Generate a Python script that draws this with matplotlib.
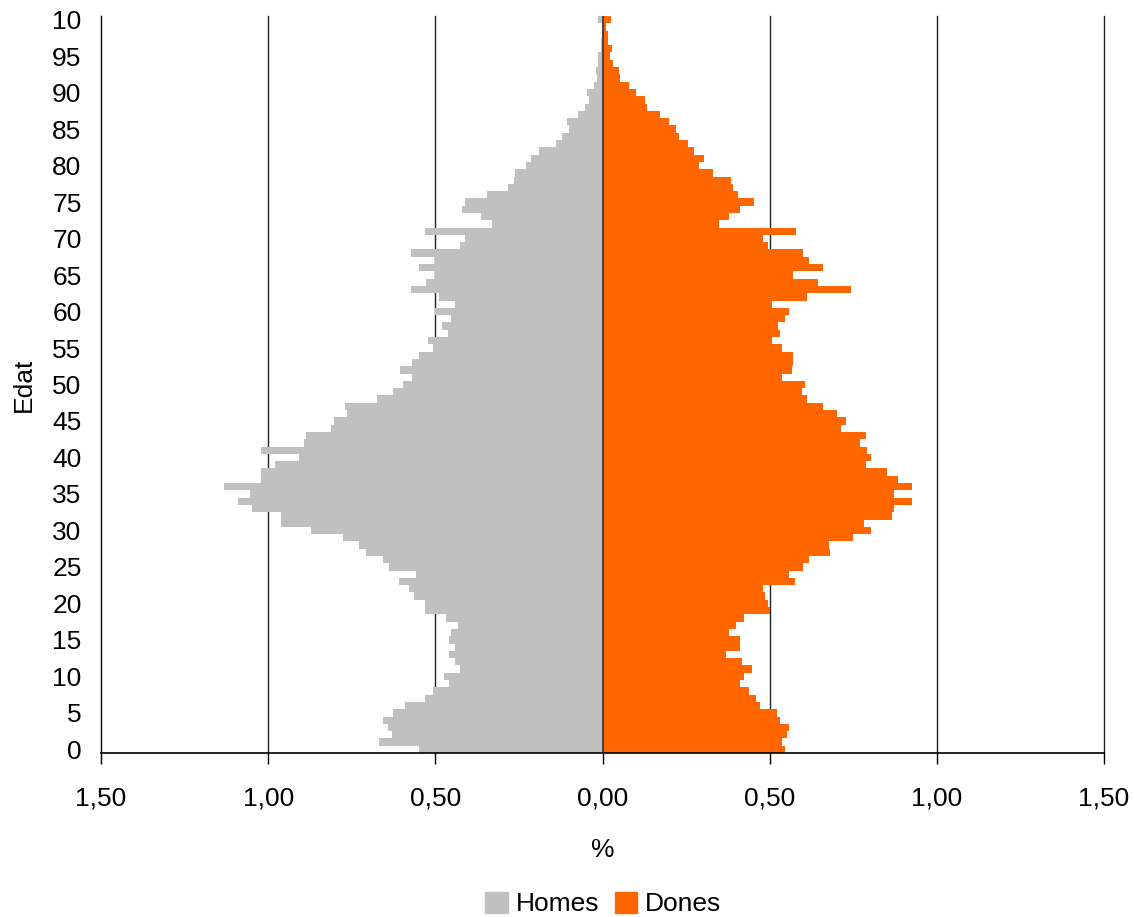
import matplotlib
matplotlib.use("Agg")
import matplotlib.pyplot as plt
from matplotlib.patches import Patch

plt.rcParams['font.family'] = ['Liberation Sans', 'DejaVu Sans']

# edats 0..100
edats = list(range(0, 101))

# percentatge d'homes, de 0 a 100 anys
homes = [
    0.548, 0.670, 0.631, 0.643, 0.657, 0.628, 0.590, 0.532, 0.508, 0.458,   # 0-9
    0.473, 0.426, 0.441, 0.458, 0.441, 0.458, 0.452, 0.431, 0.468, 0.532,   # 10-19
    0.532, 0.563, 0.580, 0.610, 0.559, 0.638, 0.657, 0.708, 0.729, 0.777,   # 20-29
    0.872, 0.961, 0.961, 1.048, 1.090, 1.053, 1.131, 1.021, 1.021, 0.979,   # 30-39
    0.907, 1.021, 0.893, 0.888, 0.813, 0.803, 0.765, 0.771, 0.676, 0.628,   # 40-49
    0.596, 0.569, 0.607, 0.569, 0.548, 0.506, 0.521, 0.462, 0.479, 0.452,   # 50-59
    0.500, 0.441, 0.489, 0.574, 0.527, 0.500, 0.548, 0.500, 0.574, 0.426,   # 60-69
    0.410, 0.532, 0.330, 0.364, 0.420, 0.410, 0.345, 0.282, 0.265, 0.263,   # 70-79
    0.229, 0.215, 0.191, 0.140, 0.122, 0.101, 0.107, 0.074, 0.053, 0.042,   # 80-89
    0.048, 0.027, 0.018, 0.021, 0.013, 0.013, 0.006, 0.006, 0.003, 0.003,   # 90-99
    0.013,                                                                  # 100
]

# percentatge de dones, de 0 a 100 anys
dones = [
    0.545, 0.538, 0.553, 0.558, 0.532, 0.521, 0.470, 0.458, 0.437, 0.410,   # 0-9
    0.423, 0.447, 0.417, 0.369, 0.410, 0.410, 0.378, 0.399, 0.423, 0.500,   # 10-19
    0.494, 0.485, 0.479, 0.576, 0.558, 0.600, 0.617, 0.681, 0.676, 0.750,   # 20-29
    0.803, 0.782, 0.867, 0.872, 0.926, 0.872, 0.926, 0.883, 0.851, 0.788,   # 30-39
    0.803, 0.792, 0.771, 0.788, 0.712, 0.729, 0.702, 0.660, 0.612, 0.596,   # 40-49
    0.607, 0.538, 0.566, 0.569, 0.569, 0.538, 0.506, 0.532, 0.525, 0.545,   # 50-59
    0.558, 0.506, 0.612, 0.742, 0.643, 0.569, 0.660, 0.617, 0.600, 0.494,   # 60-69
    0.479, 0.580, 0.348, 0.378, 0.410, 0.452, 0.404, 0.390, 0.383, 0.330,   # 70-79
    0.288, 0.303, 0.274, 0.256, 0.229, 0.220, 0.200, 0.173, 0.132, 0.128,   # 80-89
    0.100, 0.080, 0.053, 0.050, 0.032, 0.022, 0.027, 0.017, 0.017, 0.011,   # 90-99
    0.024,                                                                  # 100
]

x_ticks = [-1.5, -1.0, -0.5, 0.0, 0.5, 1.0, 1.5]
x_labels = ["1,50", "1,00", "0,50", "0,00", "0,50", "1,00", "1,50"]
y_ticks = list(range(0, 101, 5))
y_labels = [str(v) for v in range(0, 100, 5)] + ["10"]

GRIS = "#C0C0C0"
TARONJA = "#FF6600"
MIDA = 19

fig = plt.figure(figsize=(11.34, 9.17), dpi=100)
ax = fig.add_axes([0.0891, 0.1788, 0.8845, 0.8038])

ax.barh(edats, [-h for h in homes], height=1.0, color=GRIS, linewidth=0, zorder=2)
ax.barh(edats, dones, height=1.0, color=TARONJA, linewidth=0, zorder=2)

for xv in [-1.0, -0.5, 0.5, 1.0, 1.5]:
    ax.axvline(xv, color="#222222", linewidth=1.0, zorder=1, clip_on=False)
ax.axvline(0, color="#333333", linewidth=1.2, zorder=3)

ax.set_xlim(-1.5, 1.5)
ax.set_ylim(-0.5, 100.5)
ax.set_xticks(x_ticks)
ax.set_xticklabels(x_labels, fontsize=MIDA)
ax.set_yticks(y_ticks)
ax.set_yticklabels(y_labels, fontsize=MIDA)
ax.tick_params(axis="x", direction="out", length=8, width=1, pad=16)
ax.tick_params(axis="y", length=0, pad=14)

for s in ["top", "right"]:
    ax.spines[s].set_visible(False)
ax.spines["left"].set_linewidth(1.0)
ax.spines["bottom"].set_linewidth(1.2)

ax.set_xlabel("%", fontsize=MIDA, labelpad=20)
ax.set_ylabel("Edat", fontsize=MIDA, labelpad=12)

handles = [Patch(color=GRIS, label="Homes"), Patch(color=TARONJA, label="Dones")]
fig.legend(handles=handles, loc="lower center", bbox_to_anchor=(0.532, -0.025),
           ncol=2, frameon=False, fontsize=MIDA, handlelength=0.85, handleheight=0.85,
           handletextpad=0.3, columnspacing=0.6)

fig.savefig("out.png", dpi=100)
